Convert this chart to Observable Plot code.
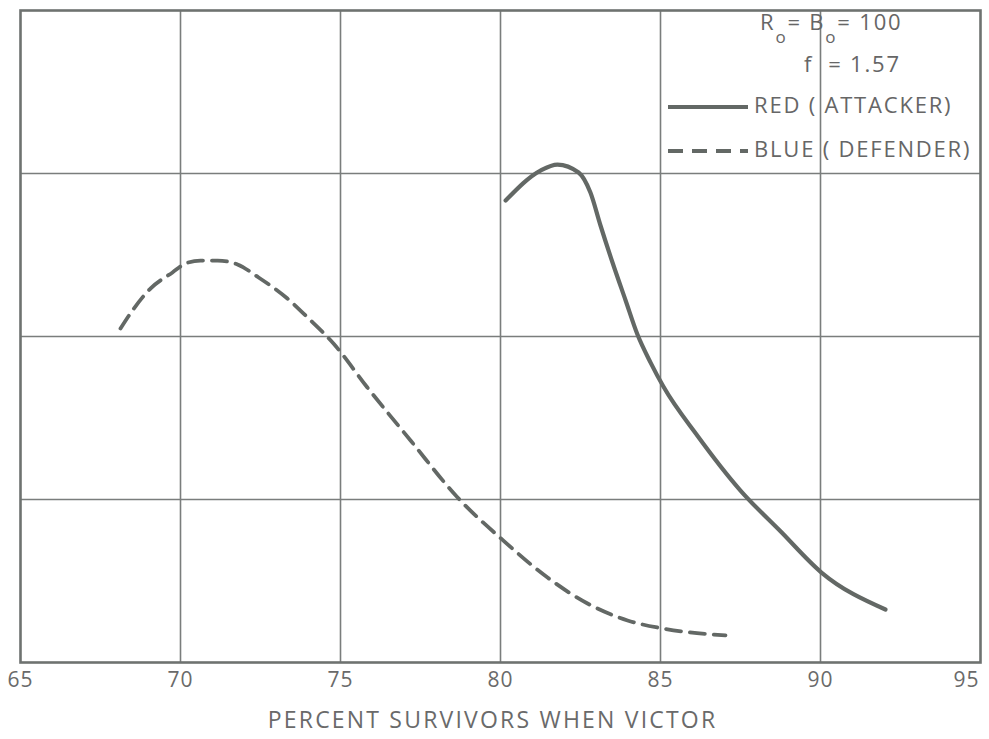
<!DOCTYPE html>
<html>
<head>
<meta charset="utf-8">
<script src="https://cdn.jsdelivr.net/npm/d3@7"></script>
<script src="https://cdn.jsdelivr.net/npm/@observablehq/plot@0.6"></script>
<style>
  html, body { margin: 0; padding: 0; background: #fff; }
  #wrap { position: relative; width: 989px; height: 739px; font-family: "Open Sans", "DejaVu Sans", sans-serif; color: #666; }
  #legend { position: absolute; left: 666px; top: 6px; width: 320px; font-size: 22px; color: #666; letter-spacing: 1.8px; }
  #legend .row { position: absolute; white-space: nowrap; }
  #legend sub { font-size: 17px; vertical-align: -13px; line-height: 0; }
</style>
</head>
<body>
<div id="wrap">
  <div id="chart"></div>
  <div id="legend"></div>
</div>
<script>
// Red (attacker) curve: x = percent survivors when victor, y = relative value (unlabeled axis)
const redX = [80.16, 81.25, 81.78, 82.44, 82.81, 83.125, 83.5, 83.91, 84.28, 84.69, 85.09, 86.16, 87.5, 88.75, 90.03, 92.03];
const redY = [2.834, 3.018, 3.055, 3.006, 2.883, 2.681, 2.454, 2.221, 2.012, 1.840, 1.693, 1.390, 1.055, 0.805, 0.552, 0.325];
// Blue (defender) curve
const blueX = [68.125, 68.5, 69.06, 69.75, 70.16, 70.625, 71.16, 71.78, 72.44, 73.34, 73.97, 74.78, 75.84, 77.19, 78.66, 80.09, 81.47, 82.72, 83.97, 85.06, 87.03];
const blueY = [2.049, 2.160, 2.294, 2.393, 2.448, 2.466, 2.466, 2.442, 2.362, 2.233, 2.117, 1.957, 1.687, 1.362, 1.012, 0.748, 0.521, 0.362, 0.258, 0.209, 0.166];
const xTicks = [65, 70, 75, 80, 85, 90];
const xLastTick = [95];
const xGrid = [70, 75, 80, 85, 90];
const yGrid = [1, 2, 3];
const xLabel = "PERCENT SURVIVORS WHEN VICTOR";
const legendParams = ["R", "B", "100", "1.57"];
const seriesNames = ["RED ( ATTACKER)", "BLUE ( DEFENDER)"];

const red = redX.map((x, i) => ({x, y: redY[i]}));
const blue = blueX.map((x, i) => ({x, y: blueY[i]}));

const ink = "#636865";

const plot = Plot.plot({
  width: 989,
  height: 739,
  marginLeft: 20,
  marginRight: 9,
  marginTop: 10,
  marginBottom: 77,
  style: { fontFamily: "'Open Sans', 'DejaVu Sans', sans-serif", background: "#fff", color: "#666" },
  x: { domain: [65, 95], label: null },
  y: { domain: [0, 4], axis: null },
  marks: [
    Plot.ruleX(xGrid, { stroke: "#7a7d7c", strokeWidth: 1.6 }),
    Plot.ruleY(yGrid, { stroke: "#7a7d7c", strokeWidth: 1.6 }),
    Plot.frame({ stroke: "#6e7270", strokeWidth: 2.6 }),
    Plot.axisX({ ticks: xTicks, tickSize: 0, tickPadding: 10, fontSize: 21, fill: "#6a6a6a", label: null }),
    Plot.axisX({ ticks: xLastTick, tickSize: 0, tickPadding: 10, fontSize: 21, fill: "#6a6a6a", label: null, dx: -14 }),
    Plot.text([xLabel], { frameAnchor: "bottom", dy: 65, dx: -8, fontSize: 23, fill: "#6a6a6a", text: d => d }),
    Plot.line(blue, { x: "x", y: "y", curve: "monotone-x", stroke: ink, strokeWidth: 3.8, strokeDasharray: "15 9" }),
    Plot.line(red, { x: "x", y: "y", curve: "monotone-x", stroke: ink, strokeWidth: 4.2 })
  ]
});
plot.querySelectorAll("text").forEach(t => {
  t.setAttribute("letter-spacing", t.textContent === xLabel ? "2.2" : "1");
});
document.getElementById("chart").appendChild(plot);

// Legend (in-chart key, top-right)
const lg = document.getElementById("legend");
lg.innerHTML = `
  <div class="row" style="left:94px; top:0px;">${legendParams[0]}<sub>o</sub>= ${legendParams[1]}<sub>o</sub>= ${legendParams[2]}</div>
  <div class="row" style="left:138px; top:42px;">f &nbsp;= ${legendParams[3]}</div>
  <div class="row" style="left:0px; top:83px;">
    <svg width="84" height="12" style="vertical-align:middle"><line x1="2" x2="82" y1="6" y2="6" stroke="${ink}" stroke-width="4.2"/></svg><span style="margin-left:4px">${seriesNames[0]}</span></div>
  <div class="row" style="left:0px; top:127px;">
    <svg width="84" height="12" style="vertical-align:middle"><line x1="2" x2="82" y1="6" y2="6" stroke="${ink}" stroke-width="3.8" stroke-dasharray="15 9"/></svg><span style="margin-left:4px">${seriesNames[1]}</span></div>
`;
</script>
</body>
</html>
